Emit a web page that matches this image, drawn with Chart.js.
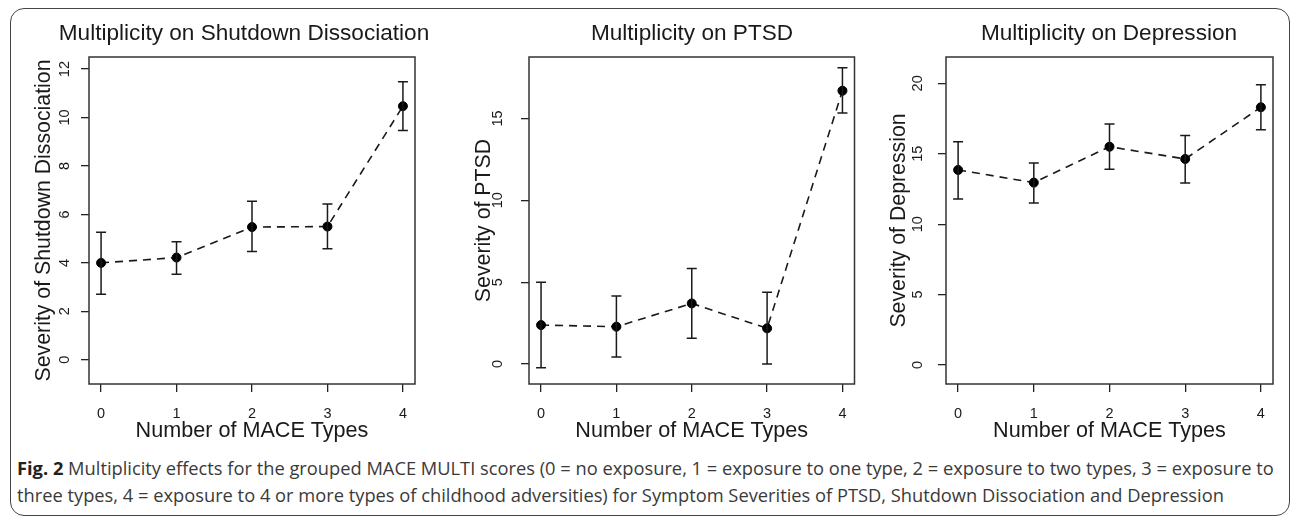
<!DOCTYPE html>
<html>
<head>
<meta charset="utf-8">
<script src="https://cdn.jsdelivr.net/npm/chart.js@4.4.1/dist/chart.umd.min.js"></script>
<style>
  body { margin: 0; background: #fff; width: 1292px; height: 519px; overflow: hidden; position: relative; }
  .frame { position: absolute; left: 10px; top: 8px; width: 1280px; height: 508px; border: 1.5px solid #444; border-radius: 14px; box-sizing: border-box; }
  .panel { position: absolute; top: 0; }
  .caption { position: absolute; left: 17px; top: 454px; font-family: "Open Sans", sans-serif; font-size: 18.3px; line-height: 27px; color: #3a3a3a; white-space: nowrap; }
  .caption b { color: #222; }
</style>
</head>
<body>
<div class="frame"></div>
<canvas id="c1" class="panel"></canvas>
<canvas id="c2" class="panel"></canvas>
<canvas id="c3" class="panel"></canvas>
<div class="caption"><b>Fig. 2</b> Multiplicity effects for the grouped MACE MULTI scores (0 = no exposure, 1 = exposure to one type, 2 = exposure to two types, 3 = exposure to<br>three types, 4 = exposure to 4 or more types of childhood adversities) for Symptom Severities of PTSD, Shutdown Dissociation and Depression</div>
<script>
// x categories (number of MACE types)
const maceTypes = [0, 1, 2, 3, 4];
const xTickLabels = ["0", "1", "2", "3", "4"];

// Shutdown dissociation: mean and error bar ends
const shutdownMean = [4.0, 4.22, 5.48, 5.5, 10.47];
const shutdownLow = [2.71, 3.53, 4.47, 4.58, 9.47];
const shutdownHigh = [5.27, 4.87, 6.54, 6.43, 11.48];
const shutdownTicks = [0, 2, 4, 6, 8, 10, 12];
const shutdownTickLabels = ["0", "2", "4", "6", "8", "10", "12"];

// PTSD
const ptsdMean = [2.38, 2.28, 3.7, 2.18, 16.69];
const ptsdLow = [-0.22, 0.43, 1.57, 0.0, 15.33];
const ptsdHigh = [4.99, 4.15, 5.84, 4.38, 18.1];
const ptsdTicks = [0, 5, 10, 15];
const ptsdTickLabels = ["0", "5", "10", "15"];

// Depression
const depressionMean = [13.85, 12.95, 15.5, 14.63, 18.3];
const depressionLow = [11.79, 11.5, 13.9, 12.93, 16.7];
const depressionHigh = [15.86, 14.35, 17.12, 16.3, 19.9];
const depressionTicks = [0, 5, 10, 15, 20];
const depressionTickLabels = ["0", "5", "10", "15", "20"];

Chart.defaults.font.family = "'Liberation Sans', Arial, sans-serif";
Chart.defaults.color = "#1a1a1a";

const panels = [
  {
    id: "c1", left: 0, width: 430, titleX: 244,
    title: "Multiplicity on Shutdown Dissociation",
    yTitle: "Severity of Shutdown Dissociation",
    mean: shutdownMean, low: shutdownLow, high: shutdownHigh,
    ticks: shutdownTicks, tickLabels: shutdownTickLabels,
    yMin: -1, yMax: 12.5, yWidth: 89, padRight: 15, tickPad: 8, yTitlePad: 31
  },
  {
    id: "c2", left: 440, width: 420, titleX: 692,
    title: "Multiplicity on PTSD",
    yTitle: "Severity of PTSD",
    mean: ptsdMean, low: ptsdLow, high: ptsdHigh,
    ticks: ptsdTicks, tickLabels: ptsdTickLabels,
    yMin: -1.22, yMax: 18.75, yWidth: 89, padRight: 5, tickPad: 15, yTitlePad: 31
  },
  {
    id: "c3", left: 850, width: 442, titleX: 1109,
    title: "Multiplicity on Depression",
    yTitle: "Severity of Depression",
    mean: depressionMean, low: depressionLow, high: depressionHigh,
    ticks: depressionTicks, tickLabels: depressionTickLabels,
    yMin: -1.35, yMax: 21.87, yWidth: 96, padRight: 19, tickPad: 12, yTitlePad: 36
  }
];

// frame around the plotting region, like R's box()
const boxPlugin = {
  id: "rbox",
  afterDraw(chart) {
    const { ctx, chartArea: a } = chart;
    ctx.save();
    ctx.strokeStyle = "#333";
    ctx.lineWidth = 1.5;
    ctx.strokeRect(a.left, a.top, a.right - a.left, a.bottom - a.top);
    ctx.restore();
  }
};

// vertical error bars with caps
const errorBarPlugin = {
  id: "errorbars",
  afterDatasetsDraw(chart, args, opts) {
    const { ctx, scales: { x, y } } = chart;
    ctx.save();
    ctx.strokeStyle = "#1a1a1a";
    ctx.lineWidth = 1.5;
    maceTypes.forEach((v, i) => {
      const px = x.getPixelForValue(v);
      const lo = y.getPixelForValue(opts.low[i]);
      const hi = y.getPixelForValue(opts.high[i]);
      ctx.beginPath();
      ctx.moveTo(px, lo); ctx.lineTo(px, hi);
      ctx.moveTo(px - 5, lo); ctx.lineTo(px + 5, lo);
      ctx.moveTo(px - 5, hi); ctx.lineTo(px + 5, hi);
      ctx.stroke();
    });
    ctx.restore();
  }
};

// main title centred at a given page x
const titlePlugin = {
  id: "rtitle",
  afterDraw(chart, args, opts) {
    const { ctx } = chart;
    ctx.save();
    ctx.font = "22.6px 'Liberation Sans', Arial, sans-serif";
    ctx.fillStyle = "#1a1a1a";
    ctx.textAlign = "center";
    ctx.textBaseline = "middle";
    ctx.fillText(opts.text, opts.x, 34);
    ctx.restore();
  }
};

panels.forEach(p => {
  const canvas = document.getElementById(p.id);
  canvas.style.left = p.left + "px";
  canvas.width = p.width;
  canvas.height = 450;

  new Chart(canvas.getContext("2d"), {
    type: "line",
    data: {
      datasets: [{
        data: maceTypes.map((v, i) => ({ x: v, y: p.mean[i] })),
        borderColor: "#1a1a1a",
        borderWidth: 1.6,
        borderDash: [8, 6],
        pointRadius: 4.5,
        pointBorderWidth: 1,
        pointBorderColor: "#000",
        pointBackgroundColor: "#000",
        tension: 0
      }]
    },
    options: {
      responsive: false,
      animation: false,
      events: [],
      layout: { padding: { top: 57, right: p.padRight, bottom: 0, left: 0 } },
      plugins: {
        legend: { display: false },
        tooltip: { enabled: false },
        errorbars: { low: p.low, high: p.high },
        rtitle: { text: p.title, x: p.titleX - p.left }
      },
      scales: {
        x: {
          type: "linear",
          min: -0.16,
          max: 4.16,
          afterBuildTicks: s => { s.ticks = maceTypes.map(v => ({ value: v })); },
          afterFit: s => { s.height = 66; },
          grid: { drawOnChartArea: false, drawTicks: true, tickLength: 8, color: "#222", lineWidth: 1.3 },
          border: { display: false },
          ticks: { padding: 13, font: { size: 14.5 }, maxRotation: 0, autoSkip: false,
                   callback: (v, i) => xTickLabels[i] },
          title: { display: true, text: "Number of MACE Types", font: { size: 21.6 },
                   padding: { top: 0, bottom: 6 } }
        },
        y: {
          type: "linear",
          min: p.yMin,
          max: p.yMax,
          afterBuildTicks: s => { s.ticks = p.ticks.map(v => ({ value: v })); },
          afterFit: s => { s.width = p.yWidth; },
          grid: { drawOnChartArea: false, drawTicks: true, tickLength: 8, color: "#222", lineWidth: 1.3 },
          border: { display: false },
          ticks: { padding: p.tickPad, font: { size: 14.5 }, minRotation: 90, maxRotation: 90,
                   crossAlign: "center", autoSkip: false,
                   callback: (v, i) => p.tickLabels[i] },
          title: { display: true, text: p.yTitle, font: { size: 21.3 },
                   padding: { top: p.yTitlePad, bottom: 0 } }
        }
      }
    },
    plugins: [boxPlugin, errorBarPlugin, titlePlugin]
  });
});
</script>
</body>
</html>
